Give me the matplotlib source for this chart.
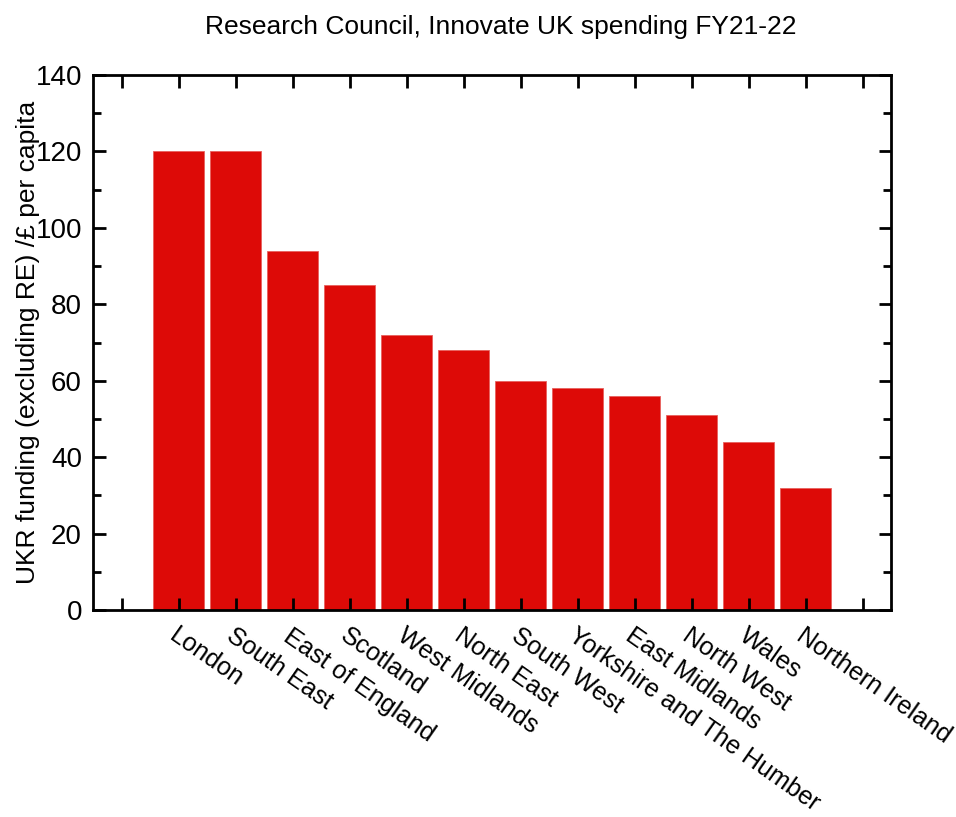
import matplotlib
matplotlib.use("Agg")
import matplotlib.pyplot as plt
import matplotlib.transforms as mtransforms
from matplotlib.ticker import MultipleLocator

plt.rcParams['font.family'] = ['Liberation Sans', 'DejaVu Sans']

regions = ["London", "South East", "East of England", "Scotland", "West Midlands",
           "North East", "South West", "Yorkshire and The Humber", "East Midlands",
           "North West", "Wales", "Northern Ireland"]
funding = [120, 120, 94, 85, 72, 68, 60, 58, 56, 51, 44, 32]

fig = plt.figure(figsize=(9.56, 8.17), dpi=100)
ax = fig.add_axes([93 / 956, 1 - 610 / 817, (891 - 93) / 956, (610 - 75) / 817])

pos = list(range(len(regions)))
ax.bar(pos, funding, width=0.9, color='#dd0a07', edgecolor='#e8615e', linewidth=0.6)

ax.set_xlim(-1.5, 12.5)
ax.set_ylim(0, 140)
ax.yaxis.set_major_locator(MultipleLocator(20))
ax.yaxis.set_minor_locator(MultipleLocator(10))
ax.set_xticks(list(range(-1, 13)))
ax.set_xticklabels([""] + regions + [""], rotation=-35, ha='left',
                   rotation_mode='anchor', fontsize=18.2)
offset = mtransforms.ScaledTranslation(-24 / 100, -2 / 100, fig.dpi_scale_trans)
for lbl in ax.get_xticklabels():
    lbl.set_transform(lbl.get_transform() + offset)

ax.tick_params(axis='both', which='both', direction='in', top=True, right=True,
               width=2)
ax.tick_params(axis='both', which='major', length=9)
ax.tick_params(axis='y', which='minor', length=6)
ax.tick_params(axis='y', which='major', labelsize=20, pad=8)
ax.tick_params(axis='x', which='major', pad=10)
for sp in ax.spines.values():
    sp.set_linewidth(2)

ax.set_ylabel("UKR funding (excluding RE) /\u00a3 per capita", fontsize=19, labelpad=-3)
fig.text(501 / 956, 1 - 27 / 817, "Research Council, Innovate UK spending FY21-22",
         ha='center', va='center', fontsize=19)

fig.savefig("out.png", dpi=100)
